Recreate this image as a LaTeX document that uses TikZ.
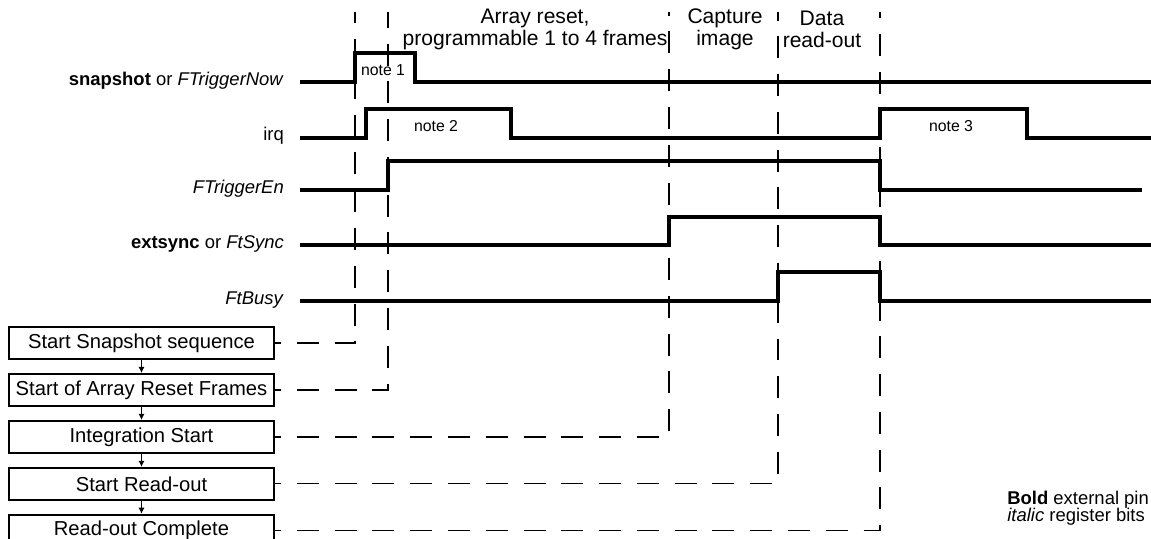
\documentclass[tikz,border=0pt]{standalone}
\usepackage{fontspec}
\setmainfont{Liberation Sans}
\usetikzlibrary{arrows.meta, positioning}

\begin{document}
\begin{tikzpicture}[x=0.02cm, y=-0.02cm,
        sig/.style={line width=1.9pt},
        guide/.style={line width=0.8pt, dash pattern=on 12.5pt off 9pt, dash phase=9pt},
        stepbox/.style={draw, line width=1.1pt, minimum width=5.3cm, minimum height=0.64cm,
            inner sep=0.5pt, align=center, font=\fontsize{11.5}{14}\selectfont},
        siglbl/.style={anchor=base east, font=\fontsize{10.5}{12}\selectfont},
        hdr/.style={align=center, font=\fontsize{12}{12.5}\selectfont},
        note/.style={font=\fontsize{9}{10}\selectfont},
        legend/.style={anchor=west, inner sep=0pt, font=\fontsize{10.5}{12}\selectfont},
        nxt/.style={-{Latex[length=1.2mm,width=1.2mm]}, line width=0.5pt}
    ]
        \useasboundingbox (0,0) rectangle (1151,538);

        % phase headings
        \node[hdr] (hreset) at (535,29) {Array reset,\\programmable 1 to 4 frames};
        \node[hdr] (hcap) at (725,29) {Capture\\image};
        \node[hdr] (hread) at (822,29) {Data\\read-out};

        % sequence boxes
        \node[stepbox] (seq) at (141.5,343) {Start Snapshot sequence};
        \node[stepbox, below=0.26cm of seq] (rst) {Start of Array Reset Frames};
        \node[stepbox, below=0.26cm of rst] (integ) {Integration Start};
        \node[stepbox, below=0.26cm of integ] (rdo) {Start Read-out};
        \node[stepbox, below=0.26cm of rdo] (done) {Read-out Complete};

        \draw[nxt] (seq) -- (rst);
        \draw[nxt] (rst) -- (integ);
        \draw[nxt] (integ) -- (rdo);
        \draw[nxt] (rdo) -- (done);

        % dashed event markers
        \coordinate (tseq) at (355,12);
        \coordinate (trst) at (388,12);
        \coordinate (tinteg) at (669,12);
        \coordinate (trdo) at (778,12);
        \coordinate (tdone) at (880,12);
        \draw[guide] (seq.east) -| (tseq);
        \draw[guide] (rst.east) -| (trst);
        \draw[guide] (integ.east) -| (tinteg);
        \draw[guide] (rdo.east) -| (trdo);
        \draw[guide] (done.east) -| (tdone);

        % signal names
        \node[siglbl] (lsnap) at (290,85) {\textbf{snapshot} or \textit{FTriggerNow}};
        \node[siglbl] (lirq) at (290,140) {irq};
        \node[siglbl] (ltrig) at (290,193) {\textit{FTriggerEn}};
        \node[siglbl] (lsync) at (290,248) {\textbf{extsync} or \textit{FtSync}};
        \node[siglbl] (lbusy) at (290,304) {\textit{FtBusy}};

        % waveforms
        \draw[sig] (300,82) -- (355,82) -- (355,53) -- (415,53) -- (415,82) -- (1151,82);
        \draw[sig] (300,138) -- (366,138) -- (366,109) -- (511,109) -- (511,138) -- (880,138)
            -- (880,109) -- (1027,109) -- (1027,138) -- (1151,138);
        \draw[sig] (300,190) -- (388,190) -- (388,161) -- (880,161) -- (880,190) -- (1142,190);
        \draw[sig] (300,245) -- (669,245) -- (669,217) -- (880,217) -- (880,245) -- (1151,245);
        \draw[sig] (300,301) -- (778,301) -- (778,272) -- (880,272) -- (880,301) -- (1151,301);

        \node[note] (n1) at (383,70) {note 1};
        \node[note] (n2) at (436,126) {note 2};
        \node[note] (n3) at (951,126) {note 3};

        % key
        \node[legend] (kbold) at (1007,500) {\textbf{Bold} external pin};
        \node[legend] (kital) at (1007,517) {\textit{italic} register bits};
    \end{tikzpicture}
\end{document}
